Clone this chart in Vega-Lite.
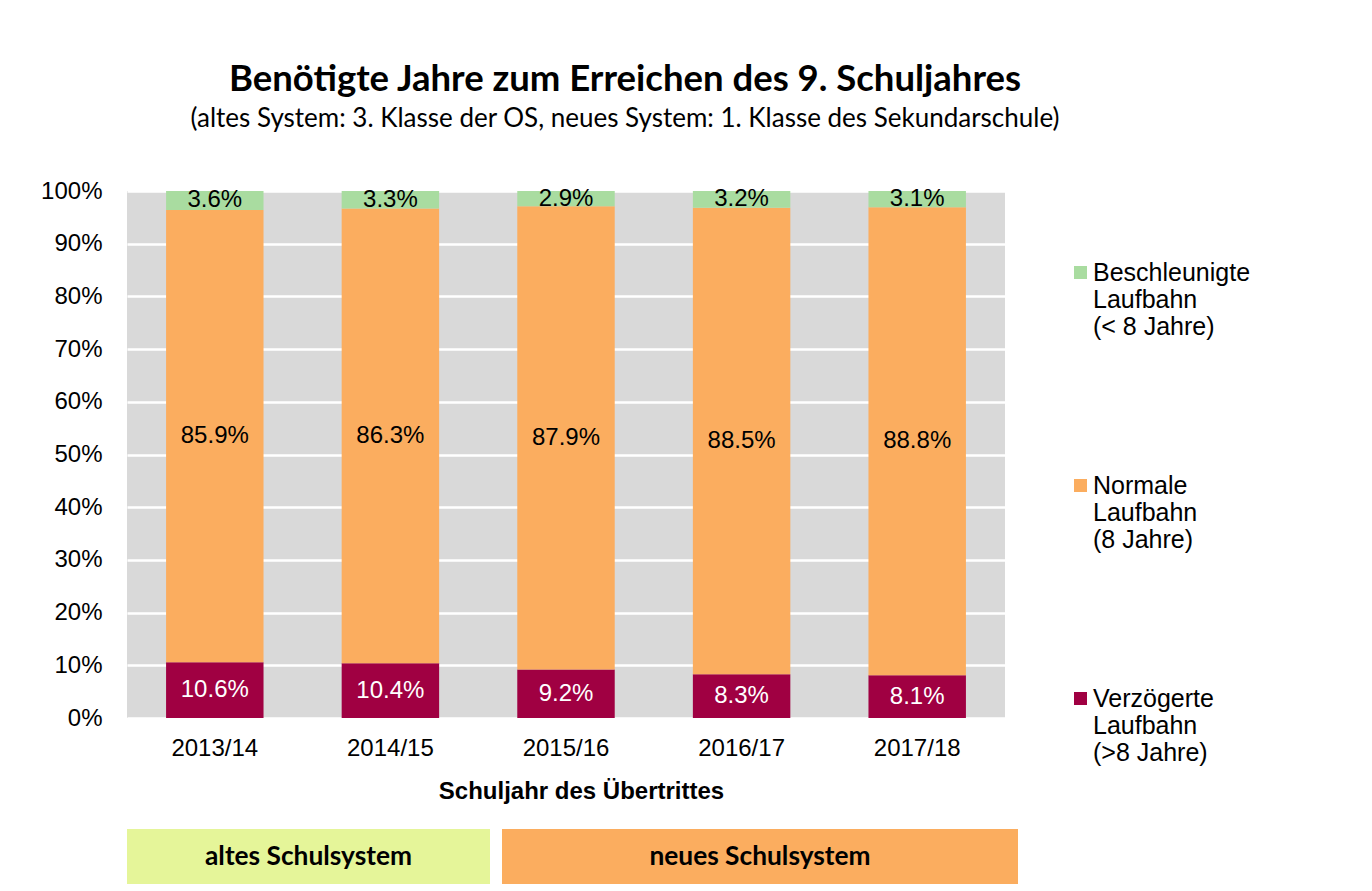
{
  "$schema": "https://vega.github.io/schema/vega-lite/v6.json",
  "background": "white",
  "padding": {"left": 40, "top": 61, "right": 20, "bottom": 8},
  "config": {"font": "Liberation Sans", "view": {"stroke": null}},
  "bounds": "flush",
  "spacing": 111,
  "vconcat": [
    {
      "width": 878,
      "height": 527,
      "view": {"fill": "#d9d9d9", "stroke": null},
      "title": {
        "text": "Benötigte Jahre zum Erreichen des 9. Schuljahres",
        "subtitle": "(altes System: 3. Klasse der OS, neues System: 1. Klasse des Sekundarschule)",
        "font": "Lato",
        "fontWeight": "bold",
        "fontSize": 36.5,
        "color": "#000000",
        "subtitleFont": "Lato",
        "subtitleFontSize": 26,
        "subtitleColor": "#000000",
        "subtitlePadding": 8,
        "anchor": "middle",
        "dx": 59,
        "offset": 47
      },
      "data": {
        "values": [
          {"year": "2013/14", "category": "Verzögerte Laufbahn (>8 Jahre)", "pct": 10.6},
          {"year": "2013/14", "category": "Normale Laufbahn (8 Jahre)", "pct": 85.9},
          {"year": "2013/14", "category": "Beschleunigte Laufbahn (< 8 Jahre)", "pct": 3.6},
          {"year": "2014/15", "category": "Verzögerte Laufbahn (>8 Jahre)", "pct": 10.4},
          {"year": "2014/15", "category": "Normale Laufbahn (8 Jahre)", "pct": 86.3},
          {"year": "2014/15", "category": "Beschleunigte Laufbahn (< 8 Jahre)", "pct": 3.3},
          {"year": "2015/16", "category": "Verzögerte Laufbahn (>8 Jahre)", "pct": 9.2},
          {"year": "2015/16", "category": "Normale Laufbahn (8 Jahre)", "pct": 87.9},
          {"year": "2015/16", "category": "Beschleunigte Laufbahn (< 8 Jahre)", "pct": 2.9},
          {"year": "2016/17", "category": "Verzögerte Laufbahn (>8 Jahre)", "pct": 8.3},
          {"year": "2016/17", "category": "Normale Laufbahn (8 Jahre)", "pct": 88.5},
          {"year": "2016/17", "category": "Beschleunigte Laufbahn (< 8 Jahre)", "pct": 3.2},
          {"year": "2017/18", "category": "Verzögerte Laufbahn (>8 Jahre)", "pct": 8.1},
          {"year": "2017/18", "category": "Normale Laufbahn (8 Jahre)", "pct": 88.8},
          {"year": "2017/18", "category": "Beschleunigte Laufbahn (< 8 Jahre)", "pct": 3.1}
        ]
      },
      "transform": [
        {"stack": "pct", "groupby": ["year"], "sort": [{"field": "category", "order": "descending"}], "offset": "normalize", "as": ["y0", "y1"]},
        {"calculate": "(datum.y0 + datum.y1) / 2", "as": "ymid"},
        {"calculate": "format(datum.pct, '.1f') + '%'", "as": "label"}
      ],
      "encoding": {
        "x": {
          "field": "year",
          "type": "nominal",
          "scale": {"paddingInner": 0.445, "paddingOuter": 0.2225},
          "axis": {
            "labelAngle": 0,
            "labelFontSize": 24,
            "labelColor": "#000000",
            "labelPadding": 18,
            "ticks": false,
            "domain": false,
            "title": "Schuljahr des Übertrittes",
            "titleFontSize": 24,
            "titleFontWeight": "bold",
            "titleColor": "#000000",
            "titlePadding": 19,
            "titleX": 454
          }
        }
      },
      "layer": [
        {
          "mark": {"type": "bar"},
          "encoding": {
            "y": {
              "field": "y0",
              "type": "quantitative",
              "scale": {"domain": [0, 1]},
              "axis": {
                "format": ".0%",
                "values": [0, 0.1, 0.2, 0.3, 0.4, 0.5, 0.6, 0.7, 0.8, 0.9, 1],
                "labelFontSize": 24,
                "labelColor": "#000000",
                "labelPadding": 25,
                "ticks": false,
                "domain": false,
                "grid": true,
                "gridColor": "#ffffff",
                "gridWidth": 2.5,
                "gridOpacity": 1,
                "title": null
              }
            },
            "y2": {"field": "y1"},
            "color": {
              "field": "category",
              "type": "nominal",
              "scale": {
                "domain": ["Beschleunigte Laufbahn (< 8 Jahre)", "Normale Laufbahn (8 Jahre)", "Verzögerte Laufbahn (>8 Jahre)"],
                "range": ["#a9dca0", "#fbad5f", "#a00042"]
              },
              "legend": {
                "title": null,
                "orient": "none",
                "legendX": 941,
                "legendY": 69,
                "symbolType": "square",
                "symbolSize": 169,
                "symbolStrokeWidth": 0,
                "labelFontSize": 25,
                "labelColor": "#000000",
                "labelLineHeight": 29.5,
                "labelBaseline": "middle",
                "labelOffset": 0,
                "labelLimit": 400,
                "rowPadding": 133,
                "labelExpr": "[split(datum.label, ' ')[0], split(datum.label, ' ')[1], slice(datum.label, indexof(datum.label, '('))]"
              }
            }
          }
        },
        {
          "mark": {"type": "text", "fontSize": 24, "baseline": "middle"},
          "encoding": {
            "y": {"field": "ymid", "type": "quantitative"},
            "text": {"field": "label"},
            "color": {
              "condition": {"test": "datum.category === 'Verzögerte Laufbahn (>8 Jahre)'", "value": "#ffffff"},
              "value": "#000000"
            }
          }
        }
      ]
    },
    {
      "spacing": 12,
      "bounds": "flush",
      "hconcat": [
        {
          "width": 363,
          "height": 55,
          "view": {"fill": "#e5f599", "stroke": null},
          "data": {"values": [{"system": "altes Schulsystem"}]},
          "mark": {"type": "text", "font": "Lato", "fontWeight": "bold", "fontSize": 26.3, "baseline": "middle", "align": "center"},
          "encoding": {"text": {"field": "system"}}
        },
        {
          "width": 516,
          "height": 55,
          "view": {"fill": "#fbad5f", "stroke": null},
          "data": {"values": [{"system": "neues Schulsystem"}]},
          "mark": {"type": "text", "font": "Lato", "fontWeight": "bold", "fontSize": 26.3, "baseline": "middle", "align": "center"},
          "encoding": {"text": {"field": "system"}}
        }
      ]
    }
  ]
}
